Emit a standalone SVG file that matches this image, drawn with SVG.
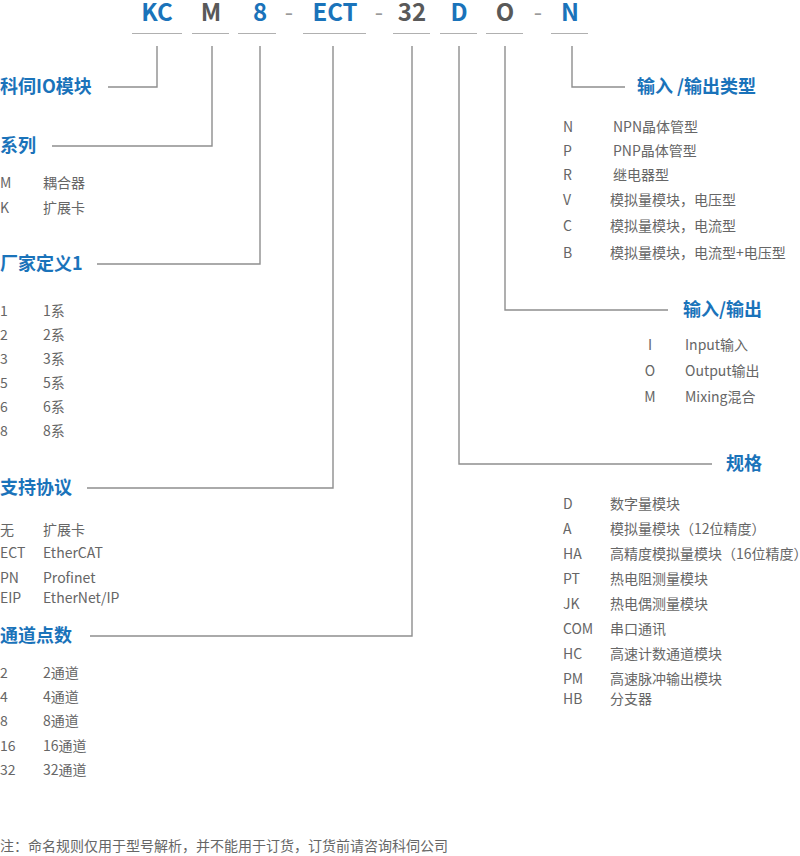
<svg xmlns="http://www.w3.org/2000/svg" width="800" height="856" viewBox="0 0 800 856">
<style>
.hd{font-family:"Noto Sans CJK SC","Noto Sans",sans-serif;font-weight:700;font-size:24px;text-anchor:middle}
.b{fill:#1a73ba}
.g{fill:#595959}
.dash{fill:#9a9a9a;font-weight:400}
.h{font-family:"Noto Sans CJK SC","Noto Sans",sans-serif;font-weight:700;font-size:18px;fill:#1a73ba}
.t{font-family:"Noto Sans CJK SC","Noto Sans",sans-serif;font-size:14px;fill:#666}
.c{text-anchor:middle}
.ul{stroke:#b0b0b0;stroke-width:1;fill:none}
.ln{stroke:#8e8e8e;stroke-width:1.4;fill:none}
</style>
<rect width="800" height="856" fill="#fff"/>
<g id="code">
<text class="hd b" x="157" y="21">KC</text>
<text class="hd g" x="211" y="21">M</text>
<text class="hd b" x="260" y="21">8</text>
<text class="hd dash" x="289" y="21">-</text>
<text class="hd b" x="335" y="21">ECT</text>
<text class="hd dash" x="379" y="21">-</text>
<text class="hd g" x="412" y="21">32</text>
<text class="hd b" x="459" y="21">D</text>
<text class="hd g" x="505" y="21">O</text>
<text class="hd dash" x="538" y="21">-</text>
<text class="hd b" x="570" y="21">N</text>
<path class="ul" d="M132 33.5H182M192 33.5H229M238 33.5H276M303 33.5H366M393 33.5H430M440 33.5H477M486 33.5H523M551 33.5H588"/>
</g>
<g id="connectors">
<path class="ln" d="M157 46V87H108"/>
<path class="ln" d="M212 46V146H52"/>
<path class="ln" d="M260 46V264H97"/>
<path class="ln" d="M333 46V488H87"/>
<path class="ln" d="M412 46V636H90"/>
<path class="ln" d="M572 46V87H625"/>
<path class="ln" d="M505 46V310H668"/>
<path class="ln" d="M459 46V464H712"/>
</g>
<g id="brand">
<text class="h" x="0" y="93">科伺IO模块</text>
</g>
<g id="series">
<text class="h" x="0" y="152">系列</text>
<text class="t" x="0" y="188">M</text><text class="t" x="43" y="188">耦合器</text>
<text class="t" x="0" y="213">K</text><text class="t" x="43" y="213">扩展卡</text>
</g>
<g id="vendor">
<text class="h" x="0" y="270">厂家定义1</text>
<text class="t" x="0" y="316">1</text><text class="t" x="43" y="316">1系</text>
<text class="t" x="0" y="340">2</text><text class="t" x="43" y="340">2系</text>
<text class="t" x="0" y="364">3</text><text class="t" x="43" y="364">3系</text>
<text class="t" x="0" y="388">5</text><text class="t" x="43" y="388">5系</text>
<text class="t" x="0" y="412">6</text><text class="t" x="43" y="412">6系</text>
<text class="t" x="0" y="436">8</text><text class="t" x="43" y="436">8系</text>
</g>
<g id="protocol">
<text class="h" x="0" y="494">支持协议</text>
<text class="t" x="0" y="535">无</text><text class="t" x="43" y="535">扩展卡</text>
<text class="t" x="0" y="558">ECT</text><text class="t" x="43" y="558">EtherCAT</text>
<text class="t" x="0" y="583">PN</text><text class="t" x="43" y="583">Profinet</text>
<text class="t" x="0" y="603">EIP</text><text class="t" x="43" y="603">EtherNet/IP</text>
</g>
<g id="channels">
<text class="h" x="0" y="642">通道点数</text>
<text class="t" x="0" y="678">2</text><text class="t" x="43" y="678">2通道</text>
<text class="t" x="0" y="702">4</text><text class="t" x="43" y="702">4通道</text>
<text class="t" x="0" y="726">8</text><text class="t" x="43" y="726">8通道</text>
<text class="t" x="0" y="751">16</text><text class="t" x="43" y="751">16通道</text>
<text class="t" x="0" y="775">32</text><text class="t" x="43" y="775">32通道</text>
</g>
<g id="iotype">
<text class="h" x="637" y="93">输入 /输出类型</text>
<text class="t" x="563" y="132">N</text><text class="t" x="613" y="132">NPN晶体管型</text>
<text class="t" x="563" y="156">P</text><text class="t" x="613" y="156">PNP晶体管型</text>
<text class="t" x="563" y="180">R</text><text class="t" x="613" y="180">继电器型</text>
<text class="t" x="563" y="205">V</text><text class="t" x="610" y="205">模拟量模块，电压型</text>
<text class="t" x="563" y="231">C</text><text class="t" x="610" y="231">模拟量模块，电流型</text>
<text class="t" x="563" y="258">B</text><text class="t" x="610" y="258">模拟量模块，电流型+电压型</text>
</g>
<g id="io">
<text class="h" x="683" y="316">输入/输出</text>
<text class="t c" x="650" y="350">I</text><text class="t" x="685" y="350">Input输入</text>
<text class="t c" x="650" y="376">O</text><text class="t" x="685" y="376">Output输出</text>
<text class="t c" x="650" y="402">M</text><text class="t" x="685" y="402">Mixing混合</text>
</g>
<g id="spec">
<text class="h" x="726" y="470">规格</text>
<text class="t" x="563" y="509">D</text><text class="t" x="610" y="509">数字量模块</text>
<text class="t" x="563" y="534">A</text><text class="t" x="610" y="534">模拟量模块（12位精度）</text>
<text class="t" x="563" y="559">HA</text><text class="t" x="610" y="559">高精度模拟量模块（16位精度）</text>
<text class="t" x="563" y="584">PT</text><text class="t" x="610" y="584">热电阻测量模块</text>
<text class="t" x="563" y="609">JK</text><text class="t" x="610" y="609">热电偶测量模块</text>
<text class="t" x="563" y="634">COM</text><text class="t" x="610" y="634">串口通讯</text>
<text class="t" x="563" y="659">HC</text><text class="t" x="610" y="659">高速计数通道模块</text>
<text class="t" x="563" y="684">PM</text><text class="t" x="610" y="684">高速脉冲输出模块</text>
<text class="t" x="563" y="704">HB</text><text class="t" x="610" y="704">分支器</text>
</g>
<g id="note">
<text class="t" x="0" y="851">注：命名规则仅用于型号解析，并不能用于订货，订货前请咨询科伺公司</text>
</g>
</svg>
